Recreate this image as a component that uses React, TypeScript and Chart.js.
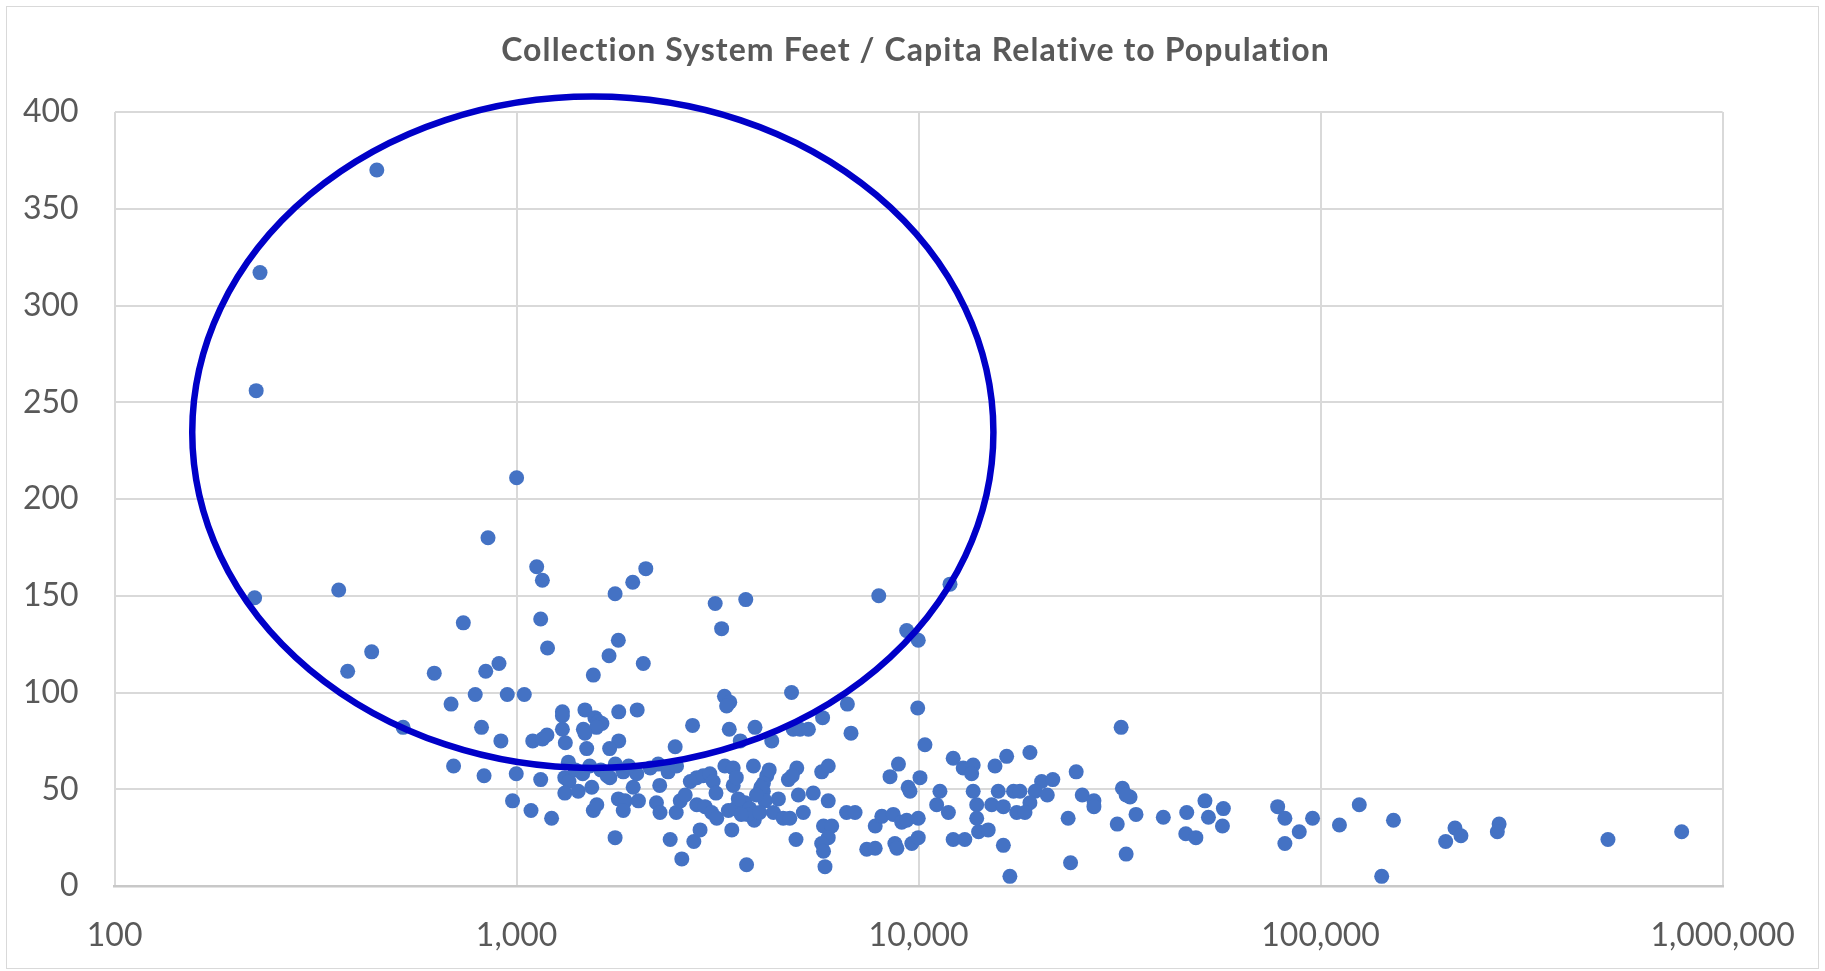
import React, { useEffect, useRef } from "react";
import { Chart, registerables } from "chart.js";

Chart.register(...registerables);

const TITLE = "Collection System Feet / Capita Relative to Population";
const X_TICKS = [100, 1000, 10000, 100000, 1000000];
const Y_MIN = 0;
const Y_MAX = 400;
const Y_STEP = 50;

// Population (x) and collection system feet per capita (y)
const POPULATION = [
  449, 230, 225, 1000, 849, 1122, 2096, 1159, 1945, 11970,
  223, 361, 1758, 3119, 3716, 7960, 3236, 1148, 737, 9340,
  9980, 1791, 1194, 1698, 436, 2066, 904, 380, 838, 1552,
  624, 789, 948, 1045, 3289, 3390, 3330, 4830, 687, 6650,
  9950, 522, 818, 31900, 914, 1097, 1160, 1190, 1300, 1300,
  1300, 1322, 1479, 1566, 1596, 1630, 1580, 1466, 1479, 1494,
  1795, 1995, 1795, 1704, 2740, 3381, 2480, 3918, 4312, 4875,
  5070, 5320, 5770, 6790, 3600, 10370, 697, 830, 998, 1148,
  977, 1086, 1222, 1345, 1318, 1350, 1318, 1423, 1538, 1552,
  1583, 1706, 1842, 1990, 1950, 1791, 1862, 1842, 2010, 1758,
  2270, 2228, 2274, 2250, 2382, 2500, 2495, 2553, 2627, 2410,
  2576, 2760, 2860, 2705, 2807, 2912, 3026, 3083, 2806, 2943,
  3055, 3147, 3133, 3297, 3458, 3458, 3364, 3430, 3733, 3700,
  3800, 3900, 3750, 3883, 4190, 4110, 4110, 4150, 4050, 4025,
  4354, 4480, 4605, 4783, 4744, 4977, 4850, 5022, 5167, 4955,
  5470, 5740, 5960, 5960, 5800, 6080, 5960, 5740, 5800, 5850,
  6620, 6950, 7800, 8100, 8650, 9080, 9340, 9980, 7430, 7800,
  8730, 8830, 9620, 9980, 8490, 8910, 9420, 9520, 10080, 11300,
  11090, 11860, 12190, 12910, 13670, 13550, 15490, 16560, 13670, 13950,
  13950, 14100, 14900, 15200, 15780, 16250, 17220, 17540, 12190, 13030,
  16250, 16870, 18920, 24660, 20230, 21570, 17870, 19500, 20900, 18920,
  18390, 25530, 27300, 27300, 32140, 33580, 32830, 34740, 31200, 32830,
  23550, 23880, 40620, 46450, 51560, 52600, 57300, 57000, 46200, 48950,
  78200, 81500, 88500, 81500, 95500, 111400, 124800, 151800, 141900, 204700,
  215900, 223400, 278000, 275200, 518600, 791000, 3500, 3620, 3560, 3520,
  1400, 1460, 1520, 1620, 1680, 1760, 3950, 4250, 2150, 1900,
];

const FEET_PER_CAPITA = [
  370, 317, 256, 211, 180, 165, 164, 158, 157, 156,
  149, 153, 151, 146, 148, 150, 133, 138, 136, 132,
  127, 127, 123, 119, 121, 115, 115, 111, 111, 109,
  110, 99, 99, 99, 98, 95, 93, 100, 94, 94,
  92, 82, 82, 82, 75, 75, 76, 78, 90, 88,
  81, 74, 91, 87, 85, 84, 82, 81, 79, 71,
  90, 91, 75, 71, 83, 81, 72, 82, 75, 81,
  81, 81, 87, 79, 75, 73, 62, 57, 58, 55,
  44, 39, 35, 64, 56, 54, 48, 49, 51, 39,
  42, 56, 59, 58, 51, 45, 44, 39, 44, 25,
  52, 43, 38, 63, 59, 62, 38, 44, 47, 24,
  14, 23, 29, 54, 56, 57, 58, 54, 42, 41,
  38, 35, 48, 62, 61, 52, 39, 29, 11, 43,
  40, 34, 37, 62, 57, 53, 49, 44, 51, 38,
  38, 45, 35, 35, 55, 61, 57, 47, 38, 24,
  48, 59, 62, 44, 31, 31, 25, 22, 18, 10,
  38, 38, 31, 36, 37, 33, 34, 35, 19, 19.5,
  22, 19.5, 22, 25, 56.5, 63, 51, 49, 56, 49,
  42, 38, 66, 61, 62.5, 58, 62, 67, 49, 42,
  35, 28, 29, 42, 49, 41, 49, 38, 24, 24,
  21, 5, 69, 59, 54, 55, 49, 49, 47, 43,
  38, 47, 44, 41, 50.5, 46, 47, 37, 32, 16.5,
  35, 12, 35.5, 38, 44, 35.5, 40, 31, 27, 25,
  41, 35, 28, 22, 35, 31.5, 42, 34, 5, 23,
  30, 26, 32, 28, 24, 28, 40, 37, 45, 56,
  60, 58, 62, 60, 57, 63, 47, 60, 61, 62,
];

// Highlight ellipse bounds, in data units (population, feet per capita)
const ELLIPSE_POP = [156, 15350];
const ELLIPSE_FEET = [61, 408];

const TEXT_COLOR = "#595959";
const GRID_COLOR = "#d9d9d9";
const POINT_COLOR = "#4472C4";
const FONT_FAMILY = "Lato, 'Open Sans', sans-serif";

const ellipsePlugin = {
  id: "highlightEllipse",
  afterDatasetsDraw(chart: any) {
    const { ctx, scales } = chart;
    const xs = scales.x;
    const ys = scales.y;
    const l = xs.getPixelForValue(ELLIPSE_POP[0]);
    const r = xs.getPixelForValue(ELLIPSE_POP[1]);
    const b = ys.getPixelForValue(ELLIPSE_FEET[0]);
    const t = ys.getPixelForValue(ELLIPSE_FEET[1]);
    ctx.save();
    ctx.beginPath();
    ctx.ellipse((l + r) / 2, (t + b) / 2, (r - l) / 2, (b - t) / 2, 0, 0, Math.PI * 2);
    ctx.lineWidth = 6.5;
    ctx.strokeStyle = "#0000C8";
    ctx.stroke();
    ctx.restore();
  },
};

export default function App() {
  const canvasRef = useRef<HTMLCanvasElement | null>(null);

  useEffect(() => {
    const canvas = canvasRef.current;
    if (!canvas) return;
    const points = POPULATION.map((p, i) => ({ x: p, y: FEET_PER_CAPITA[i] }));
    const chart = new Chart(canvas, {
      type: "scatter",
      data: {
        datasets: [
          {
            label: "Feet / Capita",
            data: points,
            backgroundColor: POINT_COLOR,
            borderColor: POINT_COLOR,
            borderWidth: 0,
            pointRadius: 7.5,
            pointHoverRadius: 7.5,
          },
        ],
      },
      options: {
        animation: false,
        responsive: false,
        devicePixelRatio: 1,
        layout: { padding: { left: 0, right: 102.4, top: 112, bottom: 0 } },
        plugins: {
          legend: { display: false },
          tooltip: { enabled: false },
          title: { display: false },
        },
        scales: {
          x: {
            type: "logarithmic",
            min: X_TICKS[0],
            max: X_TICKS[X_TICKS.length - 1],
            afterBuildTicks: (scale: any) => {
              scale.ticks = X_TICKS.map((v) => ({ value: v, major: true }));
            },
            afterFit: (scale: any) => {
              scale.height = 85;
            },
            ticks: {
              autoSkip: false,
              maxRotation: 0,
              padding: 30,
              color: TEXT_COLOR,
              font: { family: FONT_FAMILY, size: 32 },
              callback: (v: any) => Number(v).toLocaleString("en-US"),
            },
            grid: { color: GRID_COLOR, lineWidth: 2, drawTicks: false },
            border: { display: true, color: "#c8c8c8", width: 2.5 },
          },
          y: {
            min: Y_MIN,
            max: Y_MAX,
            afterFit: (scale: any) => {
              scale.width = 114.6;
            },
            ticks: {
              stepSize: Y_STEP,
              padding: 36,
              color: TEXT_COLOR,
              font: { family: FONT_FAMILY, size: 32 },
            },
            grid: { color: GRID_COLOR, lineWidth: 2, drawTicks: false },
            border: { display: false },
          },
        },
      },
      plugins: [ellipsePlugin],
    });
    return () => chart.destroy();
  }, []);

  return (
    <div
      style={{
        position: "absolute",
        left: 0,
        top: 0,
        width: 1825,
        height: 971,
        background: "#ffffff",
        overflow: "hidden",
      }}
    >
      <div
        style={{
          position: "absolute",
          left: 6,
          top: 6,
          width: 1813,
          height: 963,
          border: "1px solid #d9d9d9",
          boxSizing: "border-box",
        }}
      />
      <canvas
        ref={canvasRef}
        width={1825}
        height={971}
        style={{ position: "absolute", left: 0, top: 0, width: 1825, height: 971 }}
      />
      <div
        style={{
          position: "absolute",
          left: 0,
          top: 33,
          width: 1831,
          textAlign: "center",
          fontFamily: FONT_FAMILY,
          fontWeight: 700,
          fontSize: 32,
          letterSpacing: "1.1px",
          lineHeight: "32px",
          color: TEXT_COLOR,
          whiteSpace: "nowrap",
        }}
      >
        {TITLE}
      </div>
    </div>
  );
}
